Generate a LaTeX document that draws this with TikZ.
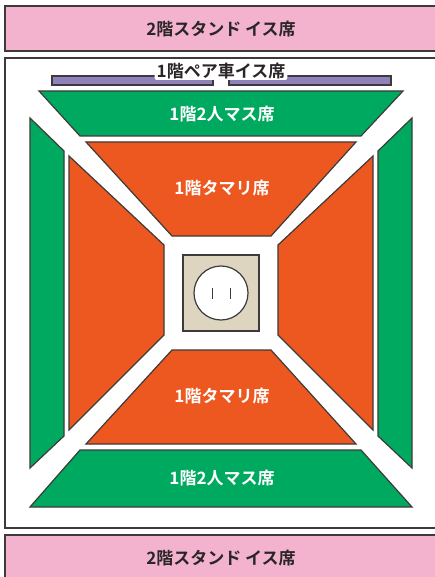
\documentclass[tikz,border=0pt]{standalone}
\usepackage{fontspec}
\setmainfont{Noto Sans CJK JP}[BoldFont={Noto Sans CJK JP Bold}]
\newfontfamily\cjkb{Noto Sans CJK JP Bold}
\definecolor{pinkc}{HTML}{F3B2CE}
\definecolor{greenc}{HTML}{00A960}
\definecolor{orangec}{HTML}{EC5820}
\definecolor{purplec}{HTML}{8F82BC}
\definecolor{sandc}{HTML}{DDD5BF}
\definecolor{linec}{HTML}{3E3A39}
\definecolor{textc}{HTML}{2A2526}
\tikzset{x=1pt,y=-1pt,
  seat/.style={draw=linec,line width=1.2pt,line join=miter},
  green seat/.style={seat,fill=greenc},
  orange seat/.style={seat,fill=orangec},
  pink band/.style={seat,fill=pinkc},
  pair seat/.style={seat,fill=purplec},
  darklabel/.style={font=\cjkb\fontsize{17}{18}\selectfont,text=textc,inner sep=0pt},
  whitelabel/.style={font=\cjkb\fontsize{17}{18}\selectfont,text=white,inner sep=0pt}}
\begin{document}
\begin{tikzpicture}
\useasboundingbox (0,0) rectangle (434,577);
\fill[white] (0,0) rectangle (434,577);
% bands and frame
\draw[pink band] (5,6) -- (436,6) -- (436,51) -- (5,51) -- cycle;
\draw[seat,fill=white] (5,58) -- (436,58) -- (436,528) -- (5,528) -- cycle;
\draw[pink band] (5,535) -- (436,535) -- (436,580) -- (5,580) -- cycle;
% pair seats
\draw[pair seat] (52,76) rectangle (213,85);
\draw[pair seat] (229,76) rectangle (391,85);
% green
\draw[green seat] (39,91) -- (403,91) -- (361,136) -- (80,136) -- cycle;
\draw[green seat] (80,450) -- (361,450) -- (412,507) -- (30,507) -- cycle;
\draw[green seat] (30,118) -- (64,151) -- (64,436) -- (30,468) -- cycle;
\draw[green seat] (412,118) -- (378,151) -- (378,436) -- (412,468) -- cycle;
% orange
\draw[orange seat] (86,142) -- (356,142) -- (271,236) -- (172,236) -- cycle;
\draw[orange seat] (172,350) -- (271,350) -- (356,444) -- (86,444) -- cycle;
\draw[orange seat] (69,156) -- (164,245) -- (164,335) -- (69,430) -- cycle;
\draw[orange seat] (373,156) -- (278,245) -- (278,335) -- (373,430) -- cycle;
% ring
\draw[seat,fill=sandc] (183,255) rectangle (259,331);
\draw[seat,fill=white] (221,293) circle (27);
\draw[linec,line width=1pt] (212,288) -- (212,299);
\draw[linec,line width=1pt] (230,288) -- (230,299);
% labels
\node[darklabel] (t2top) at (221,29.5) {2階スタンド イス席};
\node[darklabel] (t2bot) at (221,558.5) {2階スタンド イス席};
\node[darklabel,fill=white,inner xsep=2pt,inner ysep=0.5pt,rounded corners=2pt] (pair) at (221,71.5) {1階ペア車イス席};
\node[whitelabel] (g1) at (222,114.5) {1階2人マス席};
\node[whitelabel] (g2) at (222,478.5) {1階2人マス席};
\node[whitelabel] (o1) at (222,188.5) {1階タマリ席};
\node[whitelabel] (o2) at (222,396.5) {1階タマリ席};
\end{tikzpicture}
\end{document}
